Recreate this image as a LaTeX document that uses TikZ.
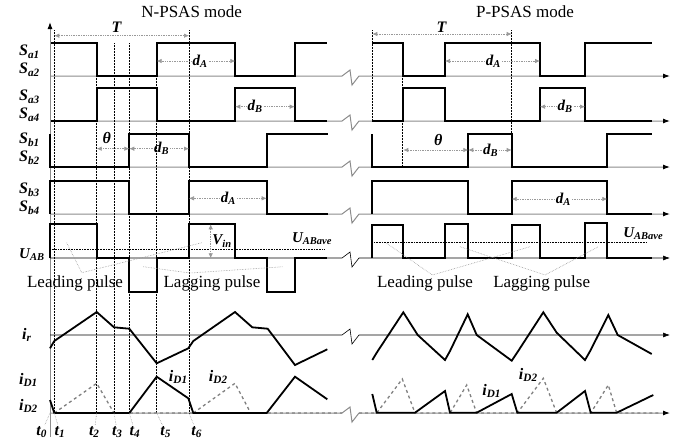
\documentclass[tikz,border=0pt]{standalone}
\usepackage{fontspec}
\setmainfont{Liberation Serif}
\usetikzlibrary{arrows.meta}
\newcommand{\sig}[2]{\textbf{\textit{#1\textsubscript{#2}}}}

\begin{document}
\begin{tikzpicture}
  [x=1pt, y=-1pt,
    wave/.style={draw=black, line width=1.8pt},
    axg/.style={draw=black!45, line width=1pt},
    axk/.style={draw=black, line width=0.6pt},
    tip/.style={-{Latex[length=7pt,width=5pt,color=black]}},
    tline/.style={draw=black, densely dotted, line width=0.5pt},
    dimarr/.style={draw=black!40, densely dotted, line width=0.7pt, -{Latex[length=5pt,width=4.5pt]}},
    dimboth/.style={draw=black!40, densely dotted, line width=0.7pt, {Latex[length=5pt,width=4.5pt]}-{Latex[length=5pt,width=4.5pt]}},
    lead/.style={draw=black!40, densely dotted, line width=0.6pt},
    ave/.style={draw=black, densely dotted, line width=0.6pt},
    idtwo/.style={draw=black!50, dashed, line width=1.3pt},
    lbl/.style={font=\fontsize{16}{18}\selectfont, inner sep=1pt},
    sub/.style={font=\fontsize{15}{17}\selectfont, inner sep=1pt},
    txt/.style={font=\fontsize{17}{20}\selectfont, inner sep=1pt}
  ]
  \useasboundingbox (0,0) rectangle (690,445);

  % axes with break marks
  \draw[axg, tip] (50,437) -- (50,22);
  \draw[axg, tip] (50,76)  -- (342,76)  -- (350,70)  -- (352,85)  -- (359,76)  -- (670,76);
  \draw[axg, tip] (50,121) -- (342,121) -- (350,115) -- (352,130) -- (359,121) -- (670,121);
  \draw[axg, tip] (50,167) -- (342,167) -- (350,161) -- (352,176) -- (359,167) -- (670,167);
  \draw[axg, tip] (50,214) -- (342,214) -- (350,208) -- (352,223) -- (359,214) -- (670,214);
  \draw[axk, tip] (50,258) -- (342,258) -- (350,252) -- (352,267) -- (359,258) -- (670,258);
  \draw[axk, tip] (50,335) -- (342,335) -- (350,329) -- (352,344) -- (359,335) -- (670,335);
  \draw[axg, tip] (50,413) -- (342,413) -- (350,407) -- (352,422) -- (359,413) -- (670,413);

  % time instants
  \draw[tline] (54.3,30) -- (54.3,413);
  \draw[tline] (96.7,76) -- (96.7,413);
  \draw[tline] (114,43) -- (114,413);
  \draw[tline] (129.3,43) -- (129.3,413);
  \draw[tline] (156.7,76) -- (156.7,413);
  \draw[tline] (189,30) -- (189,413);
  \draw[tline] (372.3,30) -- (372.3,121);
  \draw[tline] (402.7,76) -- (402.7,167);
  \draw[tline] (511.7,30) -- (511.7,134);

  % N-PSAS waveforms
  \draw[wave] (51,43) -- (96.7,43) -- (96.7,76) -- (156.7,76) -- (156.7,43) -- (235.3,43) -- (235.3,76) -- (294.7,76) -- (294.7,43) -- (327,43);
  \draw[wave] (51,121) -- (96.7,121) -- (96.7,88) -- (156.7,88) -- (156.7,121) -- (235.3,121) -- (235.3,88) -- (294.7,88) -- (294.7,121) -- (327,121);
  \draw[wave] (50,134) -- (50,167) -- (129.3,167) -- (129.3,134) -- (189,134) -- (189,167) -- (266.7,167) -- (266.7,134) -- (328,134);
  \draw[wave] (50,214) -- (50,181) -- (129.3,181) -- (129.3,214) -- (189,214) -- (189,181) -- (266.7,181) -- (266.7,214) -- (328,214);
  \draw[wave] (50,258) -- (50,224) -- (96.7,224) -- (96.7,258) -- (129.3,258) -- (129.3,292) -- (156.7,292) -- (156.7,258) -- (189,258) -- (189,224) -- (235.3,224) -- (235.3,258) -- (266.7,258) -- (266.7,292) -- (294.7,292) -- (294.7,258) -- (327,258);
  \draw[ave] (50,249) -- (325,249);
  \draw[wave] (50,348.3) -- (54.3,341) -- (96.7,312) -- (114,327.3) -- (129.3,328.7) -- (156.7,363.3) -- (188.3,348.3) -- (193.3,341) -- (235,312) -- (252.3,327.3) -- (267.7,328.7) -- (295,365) -- (327.3,349.3);
  \draw[idtwo] (54.3,413) -- (96.7,383.3) -- (114,413) -- (342,413);
  \draw[idtwo] (193.3,413) -- (235,383.3) -- (250.7,413);
  \draw[wave] (50,400) -- (54.3,413) -- (129.3,413) -- (156.7,376.7) -- (188.3,398.3) -- (193.3,413) -- (266.7,413) -- (295,376.7) -- (327.3,399.3);

  % P-PSAS waveforms
  \draw[wave] (372.3,43) -- (402.7,43) -- (402.7,76) -- (445,76) -- (445,43) -- (540,43) -- (540,76) -- (585,76) -- (585,43) -- (651.7,43);
  \draw[wave] (372.3,121) -- (402.7,121) -- (402.7,88) -- (445,88) -- (445,121) -- (540,121) -- (540,88) -- (585,88) -- (585,121) -- (651.7,121);
  \draw[wave] (372.3,134) -- (372.3,167) -- (468.3,167) -- (468.3,134) -- (511.7,134) -- (511.7,167) -- (607.3,167) -- (607.3,134) -- (651.7,134);
  \draw[wave] (372.3,214) -- (372.3,181) -- (468.3,181) -- (468.3,214) -- (511.7,214) -- (511.7,181) -- (607.3,181) -- (607.3,214) -- (651.7,214);
  \draw[wave] (372.3,258) -- (372.3,225) -- (402.7,225) -- (402.7,258) -- (445,258) -- (445,224) -- (468.3,224) -- (468.3,258) -- (511.7,258) -- (511.7,225) -- (540,225) -- (540,258) -- (585,258) -- (585,223) -- (607.3,223) -- (607.3,258) -- (651.7,258);
  \draw[ave] (372.3,242.7) -- (646.7,242.7);
  \draw[wave] (372.3,360) -- (376.7,352.7) -- (403.3,312.3) -- (417.7,335) -- (445,360) -- (450,351) -- (467.7,314.3) -- (476.7,335) -- (511.7,360.7) -- (516.7,353.3) -- (543.3,312.3) -- (556.7,332.7) -- (585,360) -- (590.7,350) -- (608.3,315) -- (617.7,335) -- (651.7,354);
  \draw[idtwo] (359,413) -- (376.7,413) -- (402.3,379) -- (415,413) -- (450,413) -- (466.7,385) -- (476.7,413) -- (517.3,413) -- (543.3,378.3) -- (556.7,413) -- (590.7,413) -- (608.3,385) -- (616.7,413) -- (660,413);
  \draw[wave] (372.3,394) -- (376.7,412.7) -- (415,412.7) -- (445,391) -- (450,412.7) -- (476.7,412.7) -- (511.7,394) -- (517.3,412.7) -- (556.7,412.7) -- (585,391) -- (590.7,412.7) -- (616.7,412.7) -- (653.3,395);

  % titles and signal names
  \node[txt] (ttlN) at (191.7,12) {N-PSAS mode};
  \node[txt] (ttlP) at (525,12) {P-PSAS mode};
  \node[lbl, anchor=west] (sa1) at (18,52)  {\sig{S}{a1}};
  \node[lbl, anchor=west] (sa2) at (18,70)  {\sig{S}{a2}};
  \node[lbl, anchor=west] (sa3) at (18,97)  {\sig{S}{a3}};
  \node[lbl, anchor=west] (sa4) at (18,115) {\sig{S}{a4}};
  \node[lbl, anchor=west] (sb1) at (18,140) {\sig{S}{b1}};
  \node[lbl, anchor=west] (sb2) at (18,158) {\sig{S}{b2}};
  \node[lbl, anchor=west] (sb3) at (18,190) {\sig{S}{b3}};
  \node[lbl, anchor=west] (sb4) at (18,208) {\sig{S}{b4}};
  \node[sub, anchor=west] (uab) at (18,255) {\sig{U}{AB}};
  \node[lbl, anchor=west] (ir)  at (21,335) {\sig{i}{r}};
  \node[lbl, anchor=west] (id1) at (18,380) {\sig{i}{D1}};
  \node[lbl, anchor=west] (id2) at (18,406) {\sig{i}{D2}};

  % dimensions, N-PSAS
  \node[lbl] (TN) at (116.7,27) {\textbf{\textit{T}}};
  \draw[dimboth] (54.3,35.7) -- (189,35.7);
  \node[sub] (dAN1) at (200,61) {\sig{d}{A}};
  \draw[dimarr] (dAN1.west) -- (156.7,61);
  \draw[dimarr] (dAN1.east) -- (235.3,61);
  \node[sub] (dBN1) at (255,106.7) {\sig{d}{B}};
  \draw[dimarr] (dBN1.west) -- (235.3,106.7);
  \draw[dimarr] (dBN1.east) -- (294.7,106.7);
  \node[lbl] (thN) at (106.7,138) {\textbf{\textit{θ}}};
  \draw[dimboth] (96.7,148.7) -- (129.3,148.7);
  \node[sub] (dBN2) at (161.7,148.7) {\sig{d}{B}};
  \draw[dimarr] (dBN2.west) -- (129.3,148.7);
  \draw[dimarr] (dBN2.east) -- (189,148.7);
  \node[sub] (dAN2) at (228.3,198.3) {\sig{d}{A}};
  \draw[dimarr] (dAN2.west) -- (189,198.3);
  \draw[dimarr] (dAN2.east) -- (266.7,198.3);
  \draw[dimboth] (210.7,224.3) -- (210.7,258.3);
  \node[sub] (vin) at (222,241) {\sig{V}{in}};
  \node[sub] (aveN) at (312,239) {\sig{U}{ABave}};

  % dimensions, P-PSAS
  \node[lbl] (TP) at (441.7,27) {\textbf{\textit{T}}};
  \draw[dimboth] (372.3,34) -- (511.7,34);
  \node[sub] (dAP1) at (493.3,61) {\sig{d}{A}};
  \draw[dimarr] (dAP1.west) -- (445,61);
  \draw[dimarr] (dAP1.east) -- (540,61);
  \node[sub] (dBP1) at (565,106.7) {\sig{d}{B}};
  \draw[dimarr] (dBP1.west) -- (540,106.7);
  \draw[dimarr] (dBP1.east) -- (585,106.7);
  \node[lbl] (thP) at (438.3,140) {\textbf{\textit{θ}}};
  \draw[dimboth] (403.3,150) -- (468.3,150);
  \node[sub] (dBP2) at (490.7,150) {\sig{d}{B}};
  \draw[dimarr] (dBP2.west) -- (468.3,150);
  \draw[dimarr] (dBP2.east) -- (511.7,150);
  \node[sub] (dAP2) at (563.3,199) {\sig{d}{A}};
  \draw[dimarr] (dAP2.west) -- (511.7,199);
  \draw[dimarr] (dAP2.east) -- (607.3,199);
  \node[sub] (aveP) at (643.3,233.3) {\sig{U}{ABave}};

  % pulse labels
  \node[txt] (leadN) at (75,283)    {Leading pulse};
  \node[txt] (lagN)  at (212,283)   {Lagging pulse};
  \node[txt] (leadP) at (425,283.3) {Leading pulse};
  \node[txt] (lagP)  at (541.7,283.3) {Lagging pulse};
  \draw[lead] (66.7,242.7) -- (81.7,272.7) -- (201.7,242.7);
  \draw[lead] (143.3,266.7) -- (190,273) -- (283.3,266.7);
  \draw[lead] (386.7,243.3) -- (432.3,275) -- (530,246.7);
  \draw[lead] (460,246.7) -- (545,275) -- (598.3,246.7);

  % current labels
  \node[lbl] (id1N) at (178.3,377) {\sig{i}{D1}};
  \node[lbl] (id2N) at (218.3,377) {\sig{i}{D2}};
  \node[lbl] (id1P) at (491.7,391) {\sig{i}{D1}};
  \node[lbl] (id2P) at (528.3,375) {\sig{i}{D2}};

  % instants
  \node[lbl] (t0) at (41.7,432)  {\sig{t}{0}};
  \node[lbl] (t1) at (60,432)    {\sig{t}{1}};
  \node[lbl] (t2) at (94.3,432)  {\sig{t}{2}};
  \node[lbl] (t3) at (117.3,432) {\sig{t}{3}};
  \node[lbl] (t4) at (135,432)   {\sig{t}{4}};
  \node[lbl] (t5) at (165.7,432) {\sig{t}{5}};
  \node[lbl] (t6) at (196.7,432) {\sig{t}{6}};
  \draw[lead] (50,413) -- (t0);
  \draw[lead] (54.3,413) -- (t1);
  \draw[lead] (96.7,413) -- (t2);
  \draw[lead] (114,413) -- (t3);
  \draw[lead] (129.3,413) -- (t4);
  \draw[lead] (156.7,413) -- (t5);
  \draw[lead] (189,413) -- (t6);
\end{tikzpicture}
\end{document}
